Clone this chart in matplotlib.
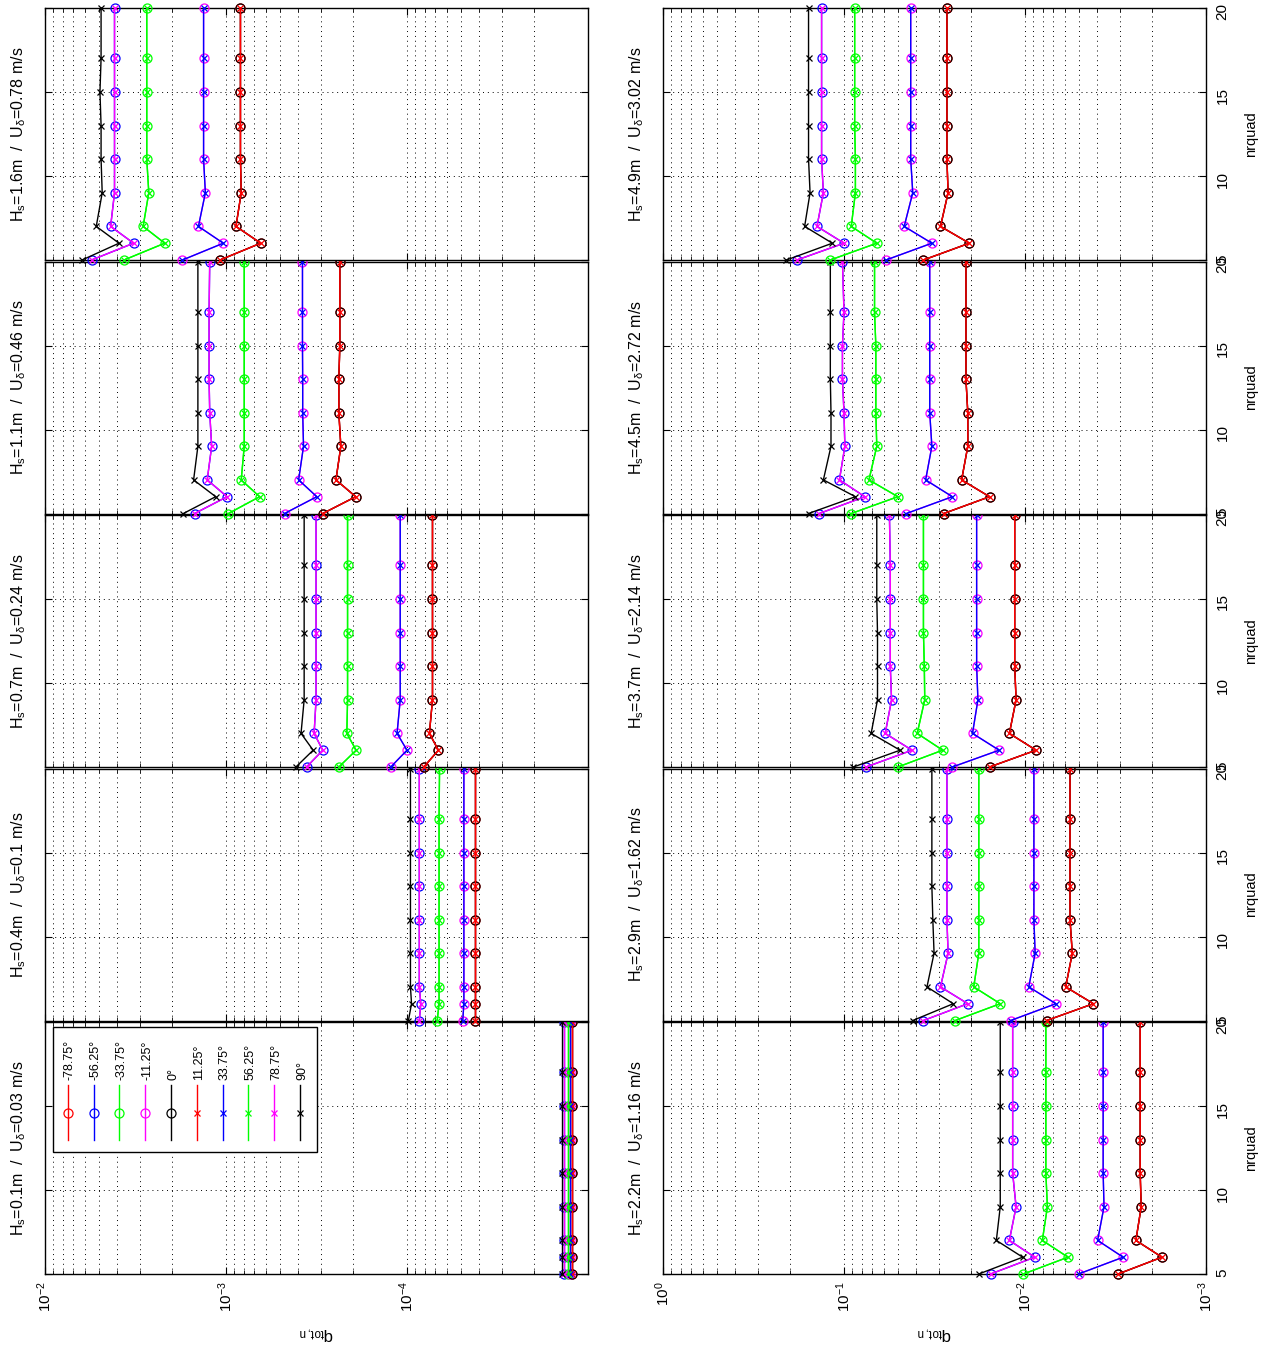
import numpy as np
import matplotlib
matplotlib.use('Agg')
import matplotlib.pyplot as plt
from matplotlib.ticker import LogLocator, FixedLocator, NullFormatter

plt.rcParams['font.family'] = ['Liberation Sans', 'DejaVu Sans']
plt.rcParams['mathtext.default'] = 'regular'

# ---- data ----
nrquad = [5, 6, 7, 9, 11, 13, 15, 17, 20]
hs = [0.1, 0.4, 0.7, 1.1, 1.6, 2.2, 2.9, 3.7, 4.5, 4.9]
ud = [0.03, 0.1, 0.24, 0.46, 0.78, 1.16, 1.62, 2.14, 2.72, 3.02]

# one row per panel (Hs order), values at nrquad points
q_black = [
    [1.40e-5, 1.40e-5, 1.40e-5, 1.40e-5, 1.40e-5, 1.40e-5, 1.40e-5, 1.40e-5, 1.40e-5],
    [9.82e-5, 9.44e-5, 9.57e-5, 9.57e-5, 9.57e-5, 9.57e-5, 9.57e-5, 9.57e-5, 9.57e-5],
    [4.11e-4, 3.30e-4, 3.85e-4, 3.70e-4, 3.70e-4, 3.70e-4, 3.70e-4, 3.70e-4, 3.70e-4],
    [1.72e-3, 1.14e-3, 1.51e-3, 1.43e-3, 1.43e-3, 1.43e-3, 1.43e-3, 1.43e-3, 1.43e-3],
    [6.24e-3, 3.90e-3, 5.21e-3, 4.83e-3, 4.90e-3, 4.90e-3, 4.97e-3, 4.90e-3, 4.90e-3],
    [1.80e-2, 1.03e-2, 1.44e-2, 1.37e-2, 1.37e-2, 1.37e-2, 1.37e-2, 1.37e-2, 1.37e-2],
    [4.17e-2, 2.49e-2, 3.48e-2, 3.18e-2, 3.23e-2, 3.27e-2, 3.27e-2, 3.27e-2, 3.27e-2],
    [8.87e-2, 4.90e-2, 7.08e-2, 6.53e-2, 6.53e-2, 6.53e-2, 6.59e-2, 6.59e-2, 6.59e-2],
    [0.157, 8.65e-2, 0.130, 0.118, 0.118, 0.119, 0.119, 0.119, 0.119],
    [0.208, 0.116, 0.165, 0.154, 0.157, 0.157, 0.157, 0.157, 0.157],
]
q_magenta = [
    [1.35e-5, 1.35e-5, 1.35e-5, 1.35e-5, 1.35e-5, 1.35e-5, 1.35e-5, 1.35e-5, 1.35e-5],
    [8.55e-5, 8.39e-5, 8.55e-5, 8.55e-5, 8.55e-5, 8.55e-5, 8.55e-5, 8.55e-5, 8.55e-5],
    [3.59e-4, 2.92e-4, 3.26e-4, 3.18e-4, 3.18e-4, 3.18e-4, 3.18e-4, 3.18e-4, 3.18e-4],
    [1.49e-3, 9.86e-4, 1.27e-3, 1.20e-3, 1.23e-3, 1.24e-3, 1.24e-3, 1.24e-3, 1.23e-3],
    [5.53e-3, 3.24e-3, 4.34e-3, 4.13e-3, 4.13e-3, 4.13e-3, 4.13e-3, 4.13e-3, 4.13e-3],
    [1.55e-2, 8.83e-3, 1.22e-2, 1.12e-2, 1.17e-2, 1.17e-2, 1.17e-2, 1.17e-2, 1.17e-2],
    [3.64e-2, 2.07e-2, 2.93e-2, 2.66e-2, 2.70e-2, 2.70e-2, 2.70e-2, 2.70e-2, 2.70e-2],
    [7.55e-2, 4.21e-2, 5.92e-2, 5.46e-2, 5.55e-2, 5.55e-2, 5.55e-2, 5.55e-2, 5.61e-2],
    [0.137, 7.67e-2, 0.106, 9.89e-2, 0.100, 0.102, 0.102, 0.100, 0.102],
    [0.182, 0.100, 0.141, 0.130, 0.133, 0.133, 0.133, 0.133, 0.133],
]
q_green = [
    [1.29e-5, 1.29e-5, 1.29e-5, 1.29e-5, 1.29e-5, 1.29e-5, 1.29e-5, 1.29e-5, 1.29e-5],
    [6.81e-5, 6.65e-5, 6.65e-5, 6.65e-5, 6.65e-5, 6.65e-5, 6.65e-5, 6.65e-5, 6.61e-5],
    [2.38e-4, 1.91e-4, 2.15e-4, 2.13e-4, 2.13e-4, 2.13e-4, 2.13e-4, 2.13e-4, 2.13e-4],
    [9.70e-4, 6.52e-4, 8.24e-4, 7.93e-4, 7.93e-4, 7.93e-4, 7.93e-4, 7.93e-4, 7.93e-4],
    [3.66e-3, 2.18e-3, 2.87e-3, 2.67e-3, 2.74e-3, 2.74e-3, 2.74e-3, 2.74e-3, 2.74e-3],
    [1.02e-2, 5.79e-3, 8.02e-3, 7.52e-3, 7.67e-3, 7.67e-3, 7.67e-3, 7.67e-3, 7.67e-3],
    [2.43e-2, 1.37e-2, 1.92e-2, 1.80e-2, 1.80e-2, 1.80e-2, 1.80e-2, 1.80e-2, 1.80e-2],
    [5.04e-2, 2.85e-2, 3.94e-2, 3.58e-2, 3.60e-2, 3.64e-2, 3.64e-2, 3.64e-2, 3.64e-2],
    [9.12e-2, 5.04e-2, 7.28e-2, 6.59e-2, 6.67e-2, 6.67e-2, 6.67e-2, 6.78e-2, 6.78e-2],
    [0.119, 6.59e-2, 9.12e-2, 8.65e-2, 8.65e-2, 8.73e-2, 8.73e-2, 8.73e-2, 8.73e-2],
]
q_blue = [
    [1.26e-5, 1.26e-5, 1.26e-5, 1.26e-5, 1.26e-5, 1.26e-5, 1.26e-5, 1.26e-5, 1.26e-5],
    [4.92e-5, 4.85e-5, 4.85e-5, 4.85e-5, 4.85e-5, 4.85e-5, 4.85e-5, 4.85e-5, 4.85e-5],
    [1.23e-4, 1.00e-4, 1.135e-4, 1.09e-4, 1.09e-4, 1.09e-4, 1.09e-4, 1.09e-4, 1.09e-4],
    [4.75e-4, 3.15e-4, 3.97e-4, 3.73e-4, 3.77e-4, 3.77e-4, 3.78e-4, 3.78e-4, 3.78e-4],
    [1.74e-3, 1.035e-3, 1.42e-3, 1.30e-3, 1.33e-3, 1.33e-3, 1.33e-3, 1.33e-3, 1.33e-3],
    [5.06e-3, 2.87e-3, 3.97e-3, 3.66e-3, 3.70e-3, 3.70e-3, 3.70e-3, 3.70e-3, 3.70e-3],
    [1.20e-2, 6.75e-3, 9.53e-3, 8.79e-3, 8.93e-3, 8.93e-3, 8.93e-3, 8.93e-3, 8.93e-3],
    [2.52e-2, 1.39e-2, 1.95e-2, 1.82e-2, 1.85e-2, 1.85e-2, 1.85e-2, 1.85e-2, 1.85e-2],
    [4.52e-2, 2.52e-2, 3.54e-2, 3.27e-2, 3.36e-2, 3.36e-2, 3.36e-2, 3.36e-2, 3.36e-2],
    [5.86e-2, 3.27e-2, 4.65e-2, 4.17e-2, 4.28e-2, 4.28e-2, 4.28e-2, 4.28e-2, 4.28e-2],
]
q_red = [
    [1.23e-5, 1.23e-5, 1.23e-5, 1.23e-5, 1.23e-5, 1.23e-5, 1.23e-5, 1.23e-5, 1.23e-5],
    [4.19e-5, 4.19e-5, 4.19e-5, 4.19e-5, 4.19e-5, 4.19e-5, 4.19e-5, 4.19e-5, 4.19e-5],
    [8.07e-5, 6.71e-5, 7.52e-5, 7.23e-5, 7.23e-5, 7.23e-5, 7.23e-5, 7.23e-5, 7.23e-5],
    [2.92e-4, 1.92e-4, 2.47e-4, 2.32e-4, 2.38e-4, 2.38e-4, 2.35e-4, 2.35e-4, 2.35e-4],
    [1.08e-3, 6.43e-4, 8.81e-4, 8.24e-4, 8.32e-4, 8.32e-4, 8.32e-4, 8.32e-4, 8.32e-4],
    [3.06e-3, 1.75e-3, 2.44e-3, 2.28e-3, 2.31e-3, 2.31e-3, 2.31e-3, 2.31e-3, 2.31e-3],
    [7.59e-3, 4.19e-3, 5.96e-3, 5.48e-3, 5.64e-3, 5.64e-3, 5.64e-3, 5.64e-3, 5.64e-3],
    [1.57e-2, 8.69e-3, 1.22e-2, 1.12e-2, 1.14e-2, 1.14e-2, 1.14e-2, 1.14e-2, 1.14e-2],
    [2.81e-2, 1.57e-2, 2.24e-2, 2.07e-2, 2.07e-2, 2.12e-2, 2.12e-2, 2.12e-2, 2.12e-2],
    [3.64e-2, 2.03e-2, 2.93e-2, 2.66e-2, 2.70e-2, 2.70e-2, 2.70e-2, 2.70e-2, 2.70e-2],
]

groups = {'red': q_red, 'blue': q_blue, 'green': q_green,
          'magenta': q_magenta, 'black': q_black}

# legend entries in plotting order: label, colour, marker, curve it falls on
angles = ['-78.75°', '-56.25°', '-33.75°', '-11.25°', '0°',
          '11.25°', '33.75°', '56.25°', '78.75°', '90°']
colors = ['#ff0000', '#0000ff', '#00ff00', '#ff00ff', '#000000',
          '#ff0000', '#0000ff', '#00ff00', '#ff00ff', '#000000']
markers = ['o', 'o', 'o', 'o', 'o', 'x', 'x', 'x', 'x', 'x']
curve = ['red', 'magenta', 'green', 'blue', 'red',
         'red', 'blue', 'green', 'magenta', 'black']
msize = {'o': 6.5, 'x': 4.5}

# ---- layout (figure is drawn turned on its side) ----
W, H = 1264, 1346
fig = plt.figure(figsize=(W / 100, H / 100), dpi=100)

col_left = [45, 663]
col_w = 543
panel_h = 252
row_step = 253.5
bottom0 = 1274

xlims = [(1e-2, 1e-5), (1e0, 1e-3)]
xmajor = [[1e-2, 1e-3, 1e-4], [1e0, 1e-1, 1e-2, 1e-3]]

dot = (0, (1, 4))

for k in range(10):
    col = k // 5
    row = k % 5
    bpx = bottom0 - row * row_step
    ax = fig.add_axes([col_left[col] / W, 1 - bpx / H, col_w / W, panel_h / H])

    for j in range(10):
        ax.plot(groups[curve[j]][k], nrquad, color=colors[j], marker=markers[j],
                mfc='none', ms=msize[markers[j]], mew=0.9, lw=1.0,
                clip_on=False, zorder=3)

    ax.set_xscale('log')
    ax.set_xlim(*xlims[col])
    ax.set_ylim(5, 20)
    ax.xaxis.set_major_locator(FixedLocator(xmajor[col]))
    ax.xaxis.set_minor_locator(LogLocator(base=10, subs=np.arange(2, 10)))
    ax.xaxis.set_minor_formatter(NullFormatter())
    ax.set_yticks([5, 10, 15, 20])

    ax.grid(True, which='both', axis='x', color='k', ls=dot, lw=0.7)
    ax.grid(True, which='major', axis='y', color='k', ls=dot, lw=0.7)

    ax.tick_params(which='both', direction='in', top=True, right=True,
                   labelsize=11)
    ax.tick_params(which='major', length=5)
    ax.tick_params(which='minor', length=3)
    ax.tick_params(axis='x', labelrotation=90, pad=5, labelbottom=(row == 0))
    ax.tick_params(axis='y', labelleft=False, labelright=(col == 1),
                   labelrotation=90, pad=7)
    for sp in ax.spines.values():
        sp.set_linewidth(1.0)

    ax.text(-0.048, 0.5, r'H$_s$=%gm  /  U$_\delta$=%g m/s' % (hs[k], ud[k]),
            transform=ax.transAxes, rotation=90, ha='center', va='center',
            fontsize=11.5)
    if col == 1:
        ax.text(1.083, 0.5, 'nrquad', transform=ax.transAxes, rotation=90,
                ha='center', va='center', fontsize=10.5)

    # legend in first panel, laid out sideways
    if k == 0:
        ax.add_patch(plt.Rectangle((0.015, 0.486), 0.486, 0.494,
                                   transform=ax.transAxes, facecolor='white',
                                   edgecolor='k', lw=1.0, zorder=5))
        for j in range(10):
            xl = 0.042 + j * 0.0475
            ax.plot([xl, xl, xl], [0.53, 0.637, 0.749], color=colors[j],
                    marker=markers[j], markevery=[1], mfc='none',
                    ms=msize[markers[j]], mew=0.9, lw=1.0,
                    transform=ax.transAxes, zorder=6, clip_on=False)
            ax.text(xl + 0.004, 0.768, angles[j], transform=ax.transAxes,
                    rotation=90, ha='center', va='bottom', fontsize=9, zorder=6)

for col in range(2):
    xc = (col_left[col] + col_w / 2) / W
    fig.text(xc, 1 - 1333 / H, r'q$_{tot,n}$', rotation=180,
             ha='center', va='center', fontsize=12)

fig.savefig('out.png', dpi=100)
